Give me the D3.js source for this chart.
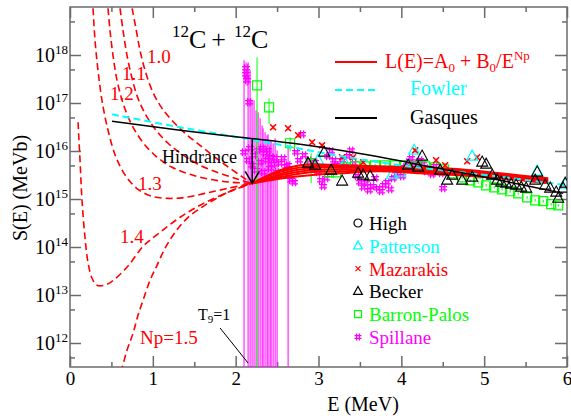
<!DOCTYPE html>
<html>
<head>
<meta charset="utf-8">
<script src="https://cdn.jsdelivr.net/npm/d3@7"></script>
<style>
  body { margin: 0; background: #fff; }
  svg { display: block; }
  svg text { font-family: "Liberation Serif", Tinos, "Times New Roman", Times, "Nimbus Roman", "Noto Serif", "DejaVu Serif", FreeSerif, serif !important; }
</style>
</head>
<body>
<svg id="chart" width="571" height="420"></svg>
<script>
// S values are given in units of 10^15 MeV b; E in MeV.
const S_EXP = 15;

// Hindrance point where the extrapolations are matched to the data
const hindranceE = 2.2;
const hindranceS = 2.12;
const hindranceTopS = 17.5;   // start of the arrow, on the Gasques curve
const t9E = 2.15;             // Gamow energy at T9 = 1

// L(E) = A0 + B0/E^Np extrapolations below E_s (dashed)
const npNames = ["1.0", "1.1", "1.2", "1.3", "1.4", "1.5"];
const lowE10 = [0.75, 0.80, 0.845, 0.906, 0.99, 1.087, 1.208, 1.389, 1.57, 1.751, 1.932, 2.089, 2.2];
const lowS10 = [9400, 3270, 1253, 480, 184, 89.5, 48, 23.4, 13.1, 7.39, 4.36, 2.83, 2.12];
const lowE11 = [0.604, 0.64, 0.688, 0.749, 0.821, 0.918, 1.039, 1.184, 1.353, 1.57, 1.812, 2.029, 2.2];
const lowS11 = [9400, 3270, 986, 327, 125, 55.4, 27.0, 14.5, 8.54, 5.04, 3.43, 2.57, 2.12];
const lowE12 = [0.459, 0.483, 0.519, 0.568, 0.64, 0.737, 0.87, 1.039, 1.232, 1.449, 1.691, 1.957, 2.2];
const lowS12 = [9400, 3270, 986, 297, 98.6, 37.8, 15.9, 7.76, 4.57, 3.27, 2.57, 2.23, 2.12];
const lowE13 = [0.278, 0.302, 0.338, 0.386, 0.459, 0.556, 0.676, 0.821, 0.99, 1.184, 1.389, 1.63, 1.908, 2.2];
const lowS13 = [9400, 2024, 480, 114, 27.0, 7.39, 2.97, 1.59, 1.14, 1.03, 1.08, 1.31, 1.67, 2.12];
const lowE14 = [0.097, 0.121, 0.145, 0.181, 0.217, 0.266, 0.326, 0.411, 0.507, 0.688, 0.882, 1.087, 1.329, 1.57, 1.872, 2.2];
const lowS14 = [39.6, 6.40, 0.94, 0.159, 0.048, 0.0223, 0.0159, 0.0159, 0.0193, 0.0378, 0.103, 0.202, 0.416, 0.74, 1.31, 2.12];
const lowE15 = [0.616, 0.688, 0.761, 0.821, 0.882, 0.966, 1.051, 1.147, 1.268, 1.413, 1.57, 1.751, 1.957, 2.2];
const lowS15 = [0.000245, 0.000705, 0.00159, 0.00378, 0.00776, 0.0202, 0.0416, 0.094, 0.202, 0.396, 0.64, 0.99, 1.52, 2.12];

// The same fits above E_s (solid)
const fanE = [2.2, 2.415, 2.657, 2.899, 3.261, 3.744, 4.227, 4.71, 5.193, 5.773];
const fanS10 = [2.12, 2.45, 2.83, 3.12, 3.43, 3.78, 3.43, 3.12, 2.70, 2.12];
const fanS11 = [2.12, 2.57, 3.12, 3.60, 3.78, 3.96, 3.60, 3.27, 2.83, 2.23];
const fanS12 = [2.12, 2.70, 3.43, 3.96, 4.15, 4.15, 3.78, 3.43, 2.97, 2.34];
const fanS13 = [2.12, 2.83, 3.78, 4.36, 4.57, 4.36, 4.15, 3.78, 3.12, 2.45];
const fanS14 = [2.12, 3.12, 4.15, 4.80, 4.80, 4.57, 4.36, 3.96, 3.27, 2.57];
const fanS15 = [2.12, 3.27, 4.57, 5.28, 5.04, 4.80, 4.57, 4.15, 3.43, 2.70];

// Fowler and Gasques systematics
const fowlerE = [0.507, 1.329, 2.246, 3.14, 3.986, 4.952, 6.0];
const fowlerS = [58, 31.2, 16.7, 8.54, 5.04, 3.27, 1.93];
const gasquesE = [0.507, 1.329, 2.053, 2.778, 3.623, 4.384, 5.193, 5.954];
const gasquesS = [41.6, 27.0, 19.3, 13.8, 8.13, 4.57, 2.45, 1.31];

// Measurements
const pattersonE = [2.995, 3.321, 3.889, 3.986, 4.155, 4.855, 5.64, 5.978];
const pattersonS = [6.40, 5.54, 3.27, 3.60, 10.3, 7.76, 3.78, 2.02];

const mazarakisE = [2.452, 2.633, 2.754, 2.923, 3.043, 3.285, 3.418, 3.539, 4.167, 4.42, 4.529, 4.795, 4.915];
const mazarakisS = [31.2, 29.7, 21.2, 15.2, 13.1, 7.39, 7.39, 5.82, 10.3, 6.40, 5.04, 6.10, 7.39];
const mazarakisErr = [3.0, 2.9, 2.1, 1.5, 1.3, 0.7, 0.7, 0.6, 1.0, 0.6, 0.5, 0.6, 0.7];

const beckerE = [2.874, 2.959, 3.068, 3.152, 3.285, 3.478, 3.539, 3.623, 4.082, 4.203, 4.251, 4.469, 4.553, 4.614, 4.734, 4.855, 4.976, 5.024, 5.097, 5.157, 5.205, 5.266, 5.326, 5.386, 5.447, 5.507, 5.616, 5.64, 5.737, 5.797, 5.87, 5.894, 5.954, 5.978];
const beckerS = [5.54, 5.04, 9.40, 3.96, 2.34, 3.43, 3.12, 2.97, 5.04, 4.57, 7.76, 3.96, 2.45, 3.12, 2.45, 2.83, 5.82, 5.28, 3.12, 2.45, 2.23, 2.12, 2.02, 1.93, 1.75, 1.67, 2.45, 3.60, 1.93, 1.67, 1.38, 1.03, 1.67, 2.12];

const barronE = [2.258, 2.403, 2.657, 2.911, 3.128, 3.213, 3.321, 3.442, 3.563, 3.684, 3.804, 3.925, 4.046, 4.167, 4.287, 4.408, 4.517, 4.626, 4.734, 4.831, 4.928, 5.024, 5.121, 5.217, 5.314, 5.411, 5.519, 5.616, 5.713, 5.809, 5.894];
const barronS = [234, 81, 14.5, 5.54, 3.60, 3.60, 4.57, 4.80, 4.80, 5.04, 5.04, 5.04, 5.04, 4.80, 4.80, 4.57, 4.15, 3.43, 2.83, 2.45, 2.23, 1.93, 1.75, 1.59, 1.45, 1.31, 1.08, 0.94, 0.90, 0.78, 0.74];
const barronErr = [662, 44, 4.8, 3.4, 0.5, 0.5, 0.3, 0.3, 0.3, 0.3, 0.3, 0.3, 0.3, 0.3, 0.3, 0.3, 0.25, 0.2, 0.2, 0.15, 0.15, 0.12, 0.1, 0.1, 0.1, 0.08, 0.07, 0.06, 0.06, 0.05, 0.05];

const spillaneE = [2.101, 2.126, 2.126, 2.138, 2.15, 2.162, 2.174, 2.198, 2.222, 2.246, 2.271, 2.295, 2.319, 2.331, 2.355, 2.379, 2.391, 2.415, 2.428, 2.452, 2.476, 2.5, 2.633,
  2.536, 2.572, 2.609, 2.669, 2.705, 2.729, 2.766, 2.802, 2.826, 2.85, 2.886, 2.923, 2.959, 2.995, 3.031, 3.056, 3.092, 3.116, 3.152, 3.188, 3.213, 3.249, 3.285, 3.321, 3.357, 3.394, 3.43, 3.466, 3.502, 3.539, 3.575, 3.611, 3.647, 3.684, 3.72, 3.756, 3.792, 3.829, 3.865, 3.901, 3.937, 3.973, 4.01, 4.046, 4.082, 4.118, 4.155, 4.191, 4.227, 4.263, 4.3, 4.336, 4.372, 4.408, 4.444, 4.481, 4.505];
const spillaneS = [9.40, 528, 396, 297, 6.40, 104, 11.4, 5.04, 8.13, 3.96, 10.3, 5.82, 11.4, 3.60, 8.95, 6.40, 10.3, 4.36, 7.39, 5.28, 7.05, 3.60, 5.04,
  5.54, 7.05, 4.80, 2.45, 2.23, 9.40, 6.40, 22.3, 8.13, 4.80, 6.40, 4.36, 5.82, 3.60, 2.45, 1.84, 2.70, 7.76, 9.86, 6.40, 5.04, 3.96, 6.40, 4.80, 7.76, 10.3, 5.54, 2.97, 2.23, 1.75, 2.12, 1.52, 1.84, 2.70, 1.67, 1.45, 1.93, 2.23, 1.59, 2.70, 3.27, 3.96, 2.97, 4.57, 5.82, 7.05, 5.54, 4.36, 6.40, 5.28, 3.78, 4.36, 3.27, 4.80, 3.96, 3.43, 1.67];
const spillaneErr = [767, 177, 100, 70, 699, 20, 469, 109, 106, 66.5, 53.7, 42, 22.9, 26.1, 15.6, 14.8, 12.0, 12.3, 9.3, 9.2, 11.4, 6.7, 8.1,
  0.4, 0.5, 0.35, 0.2, 0.2, 0.7, 0.45, 1.6, 0.6, 0.35, 0.45, 0.3, 0.4, 0.25, 0.2, 0.15, 0.2, 0.55, 0.7, 0.45, 0.35, 0.3, 0.45, 0.35, 0.55, 0.7, 0.4, 0.2, 0.15, 0.12, 0.15, 0.1, 0.13, 0.2, 0.12, 0.1, 0.14, 0.15, 0.11, 0.2, 0.23, 0.28, 0.2, 0.32, 0.4, 0.5, 0.4, 0.3, 0.45, 0.37, 0.26, 0.3, 0.23, 0.35, 0.28, 0.24, 0.12];

// Axis ticks
const xMajor = [0, 1, 2, 3, 4, 5, 6];
const xMinor = [0.5, 1.5, 2.5, 3.5, 4.5, 5.5];
const yExponents = [12, 13, 14, 15, 16, 17, 18];
const yMinorExponents = [11, 12, 13, 14, 15, 16, 17, 18];   // 5 x 10^n

// ---------------------------------------------------------------
const FONT = '"Liberation Serif", Tinos, "Times New Roman", Times, "Nimbus Roman", "Noto Serif", "DejaVu Serif", FreeSerif, serif';
const RED = "#ff0000", CYAN = "#00ffff", GREEN = "#00ff00", MAGENTA = "#ff00ff", GRAY = "#6b6b6b";
const svg = d3.select("#chart").style("font-family", FONT);
const plot = { left: 70, right: 567, top: 7, bottom: 367 };

const x = d3.scaleLinear().domain([0, 6]).range([plot.left, plot.right]);
const yMin = Math.pow(10, -3.5);
const y = d3.scaleLog().domain([yMin, 1e4]).range([plot.bottom, plot.top]);
const sv = e => Math.pow(10, e - S_EXP);

svg.append("defs").append("clipPath").attr("id", "plotClip")
  .append("rect").attr("x", plot.left).attr("y", plot.top)
  .attr("width", plot.right - plot.left).attr("height", plot.bottom - plot.top);

const zip = (a, b) => a.map((v, i) => [v, b[i]]);
const line = d3.line().x(d => x(d[0])).y(d => y(d[1])).curve(d3.curveCatmullRom.alpha(0.5));

// ---- axes (inward ticks on all four sides) ----
function styleAxis(g) {
  g.attr("font-family", null).style("font-family", FONT);
  g.select(".domain").remove();
  g.selectAll(".tick line").attr("stroke", GRAY).attr("stroke-width", 1.5);
}
svg.append("g").attr("transform", `translate(0,${plot.bottom})`)
  .call(d3.axisBottom(x).tickValues(xMajor).tickSize(-11).tickPadding(4.5).tickFormat(d3.format("d")))
  .call(styleAxis)
  .call(g => g.selectAll("text").attr("font-size", 19).attr("fill", "#000"));
svg.append("g").attr("transform", `translate(0,${plot.bottom})`)
  .call(d3.axisBottom(x).tickValues(xMinor).tickSize(-5).tickFormat("")).call(styleAxis);
svg.append("g").attr("transform", `translate(0,${plot.top})`)
  .call(d3.axisTop(x).tickValues(xMajor).tickSize(-11).tickFormat("")).call(styleAxis);
svg.append("g").attr("transform", `translate(0,${plot.top})`)
  .call(d3.axisTop(x).tickValues(xMinor).tickSize(-5).tickFormat("")).call(styleAxis);

const yMajorVals = yExponents.map(sv);
const yMinorVals = yMinorExponents.map(e => 5 * sv(e));
svg.append("g").attr("transform", `translate(${plot.left},0)`)
  .call(d3.axisLeft(y).tickValues(yMajorVals).tickSize(-11).tickFormat("")).call(styleAxis);
svg.append("g").attr("transform", `translate(${plot.left},0)`)
  .call(d3.axisLeft(y).tickValues(yMinorVals).tickSize(-5).tickFormat("")).call(styleAxis);
svg.append("g").attr("transform", `translate(${plot.right},0)`)
  .call(d3.axisRight(y).tickValues(yMajorVals).tickSize(-12).tickFormat("")).call(styleAxis);
svg.append("g").attr("transform", `translate(${plot.right},0)`)
  .call(d3.axisRight(y).tickValues(yMinorVals).tickSize(-5).tickFormat("")).call(styleAxis);

// y tick labels 10^n
yExponents.forEach(e => {
  const t = svg.append("text").attr("x", plot.left - 2).attr("y", y(sv(e)) + 6.7)
    .attr("text-anchor", "end").attr("fill", "#000");
  t.append("tspan").attr("font-size", 20).text("10");
  t.append("tspan").attr("font-size", 13).attr("dy", -7.5).text(String(e));
});

// frame
svg.append("rect").attr("x", plot.left).attr("y", plot.top)
  .attr("width", plot.right - plot.left).attr("height", plot.bottom - plot.top)
  .attr("fill", "none").attr("stroke", GRAY).attr("stroke-width", 1.5);

// axis titles
svg.append("text").attr("x", 363).attr("y", 411).attr("text-anchor", "middle")
  .attr("font-size", 20).text("E (MeV)");
svg.append("text").attr("transform", "translate(27,188) rotate(-90)").attr("text-anchor", "middle")
  .attr("font-size", 20).text("S(E) (MeVb)");

// ---- plot content ----
const gp = svg.append("g").attr("clip-path", "url(#plotClip)");

const errLow = (s, e) => (s - e > yMin ? s - e : yMin * 0.5);

function errorBars(E, S, Err, color) {
  gp.append("g").selectAll("line").data(E.map((e, i) => [e, S[i], Err[i]])).join("line")
    .attr("x1", d => x(d[0])).attr("x2", d => x(d[0]))
    .attr("y1", d => y(d[1] + d[2])).attr("y2", d => y(errLow(d[1], d[2])))
    .attr("stroke", color).attr("stroke-width", 1);
}

const shapes = {
  triangle: s => `M0,${-s * 0.62}L${s * 0.55},${s * 0.38}L${-s * 0.55},${s * 0.38}Z`,
  square: s => `M${-s / 2},${-s / 2}h${s}v${s}h${-s}Z`,
  cross: s => `M${-s / 2},${-s / 2}L${s / 2},${s / 2}M${s / 2},${-s / 2}L${-s / 2},${s / 2}`,
  hash: s => { const a = s / 2, b = s * 0.2; return `M${-b},${-a}V${a}M${b},${-a}V${a}M${-a},${-b}H${a}M${-a},${b}H${a}`; },
  circle: s => `M${s / 2},0A${s / 2},${s / 2} 0 1,1 ${-s / 2},0A${s / 2},${s / 2} 0 1,1 ${s / 2},0Z`
};

function symbols(parent, E, S, shape, size, color, width) {
  parent.append("g").selectAll("path").data(E.map((e, i) => [e, S[i]])).join("path")
    .attr("transform", d => `translate(${x(d[0])},${y(d[1])})`)
    .attr("d", shapes[shape](size)).attr("fill", "none")
    .attr("stroke", color).attr("stroke-width", width);
}

// data sets
errorBars(spillaneE, spillaneS, spillaneErr, MAGENTA);
symbols(gp, spillaneE, spillaneS, "hash", 8, MAGENTA, 1.2);
errorBars(barronE, barronS, barronErr, GREEN);
symbols(gp, barronE, barronS, "square", 9, GREEN, 1.2);
errorBars(mazarakisE, mazarakisS, mazarakisErr, RED);
symbols(gp, mazarakisE, mazarakisS, "cross", 6, RED, 1.5);
symbols(gp, pattersonE, pattersonS, "triangle", 10, CYAN, 1.2);

// hindrance fits
const lowSets = [[lowE10, lowS10], [lowE11, lowS11], [lowE12, lowS12], [lowE13, lowS13], [lowE14, lowS14], [lowE15, lowS15]];
const fanSets = [fanS10, fanS11, fanS12, fanS13, fanS14, fanS15];
lowSets.forEach(([E, S]) => {
  gp.append("path").attr("d", line(zip(E, S))).attr("fill", "none")
    .attr("stroke", RED).attr("stroke-width", 1.6).attr("stroke-dasharray", "7,4");
});
fanSets.forEach(S => {
  gp.append("path").attr("d", line(zip(fanE, S))).attr("fill", "none")
    .attr("stroke", RED).attr("stroke-width", 2);
});

// systematics
gp.append("path").attr("d", line(zip(fowlerE, fowlerS))).attr("fill", "none")
  .attr("stroke", CYAN).attr("stroke-width", 2).attr("stroke-dasharray", "7,4");
gp.append("path").attr("d", line(zip(gasquesE, gasquesS))).attr("fill", "none")
  .attr("stroke", "#000").attr("stroke-width", 1.5);

symbols(gp, beckerE, beckerS, "triangle", 10, "#000", 1.1);

// ---- annotations ----
const hx = x(hindranceE), hy = y(hindranceS);
svg.append("line").attr("x1", hx).attr("x2", hx).attr("y1", y(hindranceTopS)).attr("y2", hy)
  .attr("stroke", "#000").attr("stroke-width", 1.5);
svg.append("path").attr("d", `M${hx - 7},${hy - 12}L${hx},${hy}L${hx + 7},${hy - 12}`)
  .attr("fill", "none").attr("stroke", "#000").attr("stroke-width", 1.5);
svg.append("text").attr("x", 162).attr("y", 163).attr("font-size", 18).text("Hindrance");

const tx = x(t9E);
svg.append("line").attr("x1", tx).attr("y1", plot.bottom - 4).attr("x2", tx - 28).attr("y2", plot.bottom - 39)
  .attr("stroke", "#000").attr("stroke-width", 1);
const t9 = svg.append("text").attr("x", 198).attr("y", 320).attr("font-size", 16);
t9.append("tspan").text("T");
t9.append("tspan").attr("font-size", 11).attr("dy", 3).text("9");
t9.append("tspan").attr("dy", -3).text("=1");

// Np labels
const npPos = [[147, 63], [122, 80], [110, 100], [138, 190], [120, 243], [140, 344]];
npNames.forEach((n, i) => {
  svg.append("text").attr("x", npPos[i][0]).attr("y", npPos[i][1]).attr("font-size", 19)
    .attr("fill", RED).text(i === 5 ? "Np=" + n : n);
});

// title
const title = svg.append("text").attr("x", 172).attr("y", 48).attr("font-size", 26);
title.append("tspan").attr("font-size", 17).attr("dy", -11).text("12");
title.append("tspan").attr("dy", 11).text("C");
title.append("tspan").attr("dx", 5).text("+");
title.append("tspan").attr("font-size", 17).attr("dx", 8).attr("dy", -11).text("12");
title.append("tspan").attr("dy", 11).text("C");

// upper legend
[{ y: 62, color: RED, dash: null }, { y: 90, color: CYAN, dash: "7,4" }, { y: 118, color: "#000", dash: null }]
  .forEach(d => {
    svg.append("line").attr("x1", 335).attr("x2", 377).attr("y1", d.y).attr("y2", d.y)
      .attr("stroke", d.color).attr("stroke-width", 2).attr("stroke-dasharray", d.dash);
  });
const lt = svg.append("text").attr("x", 385).attr("y", 68).attr("font-size", 20).attr("fill", RED);
lt.append("tspan").text("L(E)=A");
lt.append("tspan").attr("font-size", 13).attr("dy", 4).text("0");
lt.append("tspan").attr("dy", -4).text(" + B");
lt.append("tspan").attr("font-size", 13).attr("dy", 4).text("0");
lt.append("tspan").attr("dy", -4).text("/E");
lt.append("tspan").attr("font-size", 13).attr("dy", -8).text("Np");
svg.append("text").attr("x", 410).attr("y", 95).attr("font-size", 20).attr("fill", CYAN).text("Fowler");
svg.append("text").attr("x", 410).attr("y", 124).attr("font-size", 20).attr("fill", "#000").text("Gasques");

// lower legend
const sets = [
  { name: "High", color: "#000", shape: "circle", size: 8 },
  { name: "Patterson", color: CYAN, shape: "triangle", size: 8 },
  { name: "Mazarakis", color: RED, shape: "cross", size: 5 },
  { name: "Becker", color: "#000", shape: "triangle", size: 8 },
  { name: "Barron-Palos", color: GREEN, shape: "square", size: 7 },
  { name: "Spillane", color: MAGENTA, shape: "hash", size: 7 }
];
sets.forEach((s, i) => {
  const by = 230 + i * 22.8;
  svg.append("path").attr("transform", `translate(358,${by - 7})`).attr("d", shapes[s.shape](s.size))
    .attr("fill", "none").attr("stroke", s.color).attr("stroke-width", 1.2);
  svg.append("text").attr("x", 369).attr("y", by).attr("font-size", 19).attr("fill", s.color).text(s.name);
});
</script>
</body>
</html>
